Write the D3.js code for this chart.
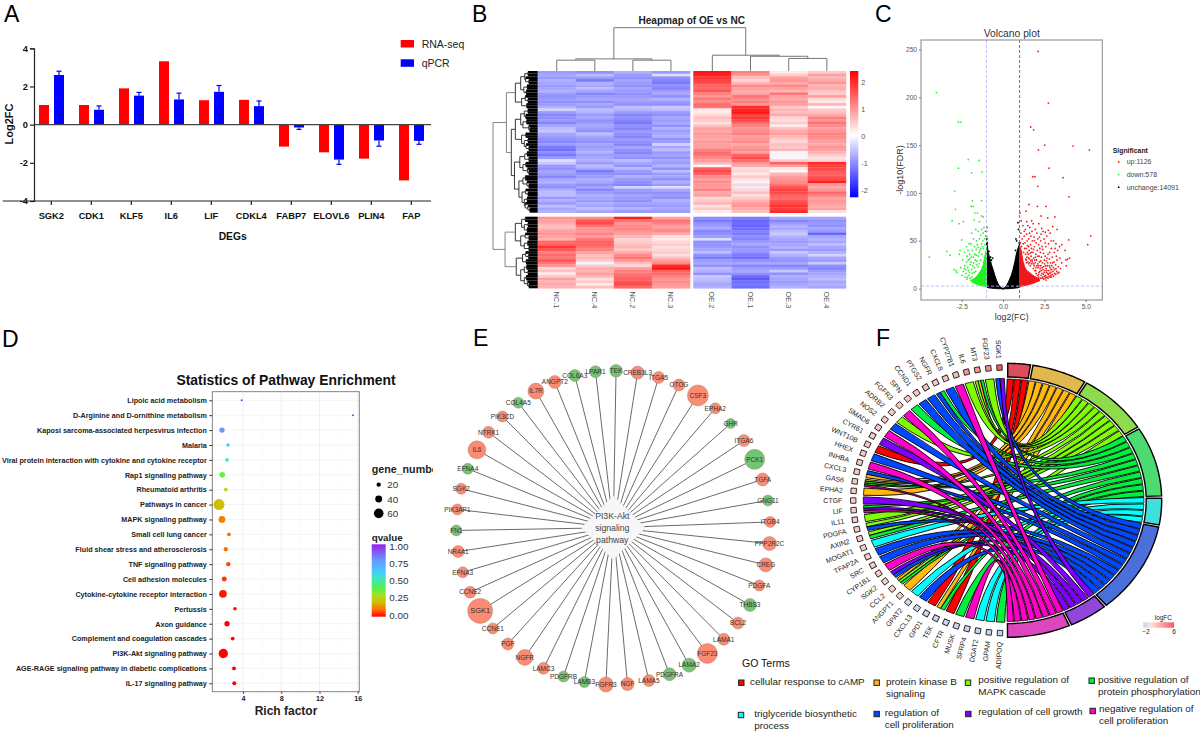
<!DOCTYPE html>
<html>
<head>
<meta charset="utf-8">
<script src="https://d3js.org/d3.v7.min.js"></script>
<style>
body { margin: 0; background: #fff; }
svg { display: block; }
text { font-family: "Liberation Sans", Arial, sans-serif; }
</style>
</head>
<body>
<div id="chart"></div>
<script>
// ---------- panel A data
var degNames = ['SGK2', 'CDK1', 'KLF5', 'IL6', 'LIF', 'CDKL4', 'FABP7', 'ELOVL6', 'PLIN4', 'FAP'];
var rnaSeq = [1.03, 1.03, 1.9, 3.32, 1.28, 1.3, -1.15, -1.45, -1.78, -2.92];
var qPcr = [2.6, 0.78, 1.52, 1.32, 1.72, 0.97, -0.15, -1.83, -0.83, -0.85];
var qPcrErr = [0.2, 0.2, 0.17, 0.33, 0.33, 0.27, 0.1, 0.25, 0.3, 0.18];

// ---------- panel B data, one list per sample, rows top block then bottom block
var colNames = ['NC.1', 'NC.4', 'NC.2', 'NC.3', 'OE.2', 'OE.1', 'OE.3', 'OE.4'];
var heatTop = [
  [-.9,-.8,-.9,-.7,-.8,-.9,-.8,-.7,-.9,-1.0,-.9,-1.0,-.9,-.7,-.4,-.9,-1.1,-1.0,-.9,-1.1,-.8,-.6,-.5,-.8,-.9,-1.0,-1.1,-.9,-1.2,-1.3,-1.0,-1.2,-.9,-.3,-.5,-.9,-1,-.8,-.9,-1.1,-.8,-.7,-.9,-1,-.7,-.6,-.6,-.9,-.7,-.9,-.6,-.8,-.7],
  [-1.0,-.6,-.9,-1.2,-.7,-.8,-.6,-.8,-1.1,-.9,-.8,-1.0,-.8,-.9,-.6,-.7,-.9,-.8,-1,-.9,-.8,-.9,-1.0,-.6,-.8,-.9,-1,-.8,-.9,-.8,-.7,-.9,-.8,-.7,-.9,-.6,-.8,-1.2,-1,-.9,-.7,-.8,-1,-.8,-1.1,-.9,-.7,-.8,-.9,-.7,-.8,-.6,-.8],
  [-.7,-.9,-1,-.8,-.9,-1,-.8,-.9,-1.0,-.9,-.8,-.9,-1,-.6,-.7,-.9,-1.1,-1.0,-1.1,-1.2,-1,-1.1,-.9,-1.0,-1.1,-.9,-1,-1.1,-.8,-1,-1.1,-.9,-1,-.6,-.8,-1,-.6,-.9,-1,-.7,-.9,-1,-1.1,-.4,-.9,-1,-.8,-.9,-1,-.8,-.9,-.7,-.9],
  [-.9,-.3,-1.0,-1.1,-1.2,-1,-1.1,-.9,-.8,-1,-.7,-.9,-1,-.5,-.6,-.9,-1,-.8,-.9,-.8,-1,-.7,-.9,-.8,-.7,-1,-.9,-.4,-.8,-.6,-.9,-.8,-1,-.8,-.9,-.7,-1,-.6,-.9,-.8,-1,-.7,-.9,-.3,-.8,-1,-.9,-1,-.7,-.8,-.9,-.8,-.9],
  [2.2,2.1,1.9,1.8,1.7,1.5,1.4,1.6,1.2,1.0,1.3,1.1,1.4,1.3,.2,.2,.4,.6,.5,.3,.6,.9,.8,1,.9,.8,1,.9,.9,1.2,1.4,1.3,1.1,.9,.7,.1,1.5,1.7,1.5,1.1,.9,1.1,1,.9,1.2,.8,.9,.4,.5,.7,.3,.5,.2],
  [1.2,1.0,.6,.4,.7,1.1,.9,.8,.9,1.3,1.1,1.2,1.0,2.0,2.1,2.2,1.8,1.9,1.7,1.4,1.2,1.0,1.1,1.2,.9,1.0,1.1,.8,1.0,1.1,.9,1.5,1.7,1.4,1.0,.8,.3,.4,.2,.5,.3,.1,.4,-.2,.4,.6,.3,.5,.7,.9,1.0,.8,.6],
  [.2,.5,.9,1.0,.8,1.1,.9,.7,1.3,.9,.8,1.0,.9,.5,.7,.6,.8,.4,.3,.5,.2,.6,.8,.9,.7,.5,.4,.6,.5,.7,.1,-.1,.1,.5,1.5,.9,.2,.1,.7,.9,1.0,1.1,1.3,1.6,1.8,1.7,1.5,1.4,1.6,1.7,1.9,1.8,2.0],
  [.5,.9,.7,.8,1.0,.7,.8,.6,.5,.9,.4,.2,.7,.1,.5,.6,.8,1.2,1.0,1.3,1.1,.9,1.0,1.2,1.1,1.0,.9,.8,1.0,.9,.7,.5,.3,.4,2.0,1.8,1.7,1.6,1.5,1.6,1.7,2.1,1.0,.8,1.0,1.4,1.2,.9,1,.9,.8,.9,.3]
];
var heatBottom = [
  [1.0,.9,.8,.6,.7,.9,1.0,.9,.7,1.4,1.5,1.9,1.6,1.2,1.4,1.3,1.6,1.3,1.0,.4,.6,.2,.5,.9,.7,.8,.7],
  [1.1,1.6,1.7,1.3,1.0,1.0,1.2,.9,1.3,1.5,1.5,1.3,1.2,.9,.6,.7,.5,-.1,.5,.8,.7,.9,.7,.3,.5,.2,.6],
  [2.1,1.3,1.0,1.1,1.2,1.0,.9,.7,.4,.5,.6,.7,.5,.8,1.1,1.3,1.0,.6,.4,.9,1.2,1.3,1.4,1.5,1.6,1.7,1.4],
  [.9,1.3,1.2,.9,1.0,1.1,.8,.3,.2,.4,.5,.3,.4,.5,.3,.6,.9,1.1,2.0,2.2,1.5,1.4,1.2,1.0,1.1,1.0,.9],
  [-1.0,-1.2,-1,-.9,-.8,-1.1,-1.0,-.9,-.3,-1,-1,-.9,-.8,-.6,-1,-1.2,-.9,-.8,-1,-.6,-.7,-1.0,-.5,-.6,-.7,-.8,-.7],
  [-1.2,-1.4,-1.3,-1.4,-1.3,-1.1,-1.2,-1,-1.1,-.9,-.8,-1,-.9,-1.0,-1.2,-1.3,-1,-.8,-1.1,-.9,-.8,-1,-1.3,-1.5,-1.3,-1.2,-1.3],
  [-.8,-1.1,-.9,-.7,-.8,-.6,-.5,-.7,-.8,-.9,-.8,-.7,-.9,-.5,-.7,-.9,-1,-.8,-1.1,-.9,-.5,-1,-.7,-.8,-.9,-.8,-.7],
  [-.8,-1,-.9,-1,-.8,-.9,-1.4,-.8,-.7,-.8,-.6,-.8,-.9,-.7,-.4,-.8,-.9,-.5,-1,-1.1,-.9,-.8,-.7,-.6,-.8,-.7,-.8]
];
// dendrograms as [height, childA, childB], leaves are column / row numbers
var colTree = [1, [.28, [.25, 0, 1], [.25, 2, 3]], [.365, 4, [.34, 5, [.29, 6, 7]]]];
var rowTree = [1,
  [.7,
    [.5, [.38, [.29, [.22, 0, 1], [.27, 2, [.2, 3, 4]]], [.31, [.24, 5, 6], [.26, 7, 8]]], [.36, [.28, 9, [.22, 10, 11]], [.25, 12, 13]]],
    [.59,
      [.5, [.38, [.3, [.22, 14, 15], [.27, 16, 17]], [.33, [.25, 18, 19], [.2, 20, [.18, 21, 22]]]], [.36, [.27, 23, 24], [.3, [.22, 25, 26], [.26, 27, [.2, 28, 29]]]]],
      [.52, [.4, [.29, [.24, 30, 31], [.2, 32, 33]], [.33, [.27, 34, 35], [.23, 36, [.2, 37, 38]]]], [.42, [.33, [.28, 39, 40], [.24, 41, [.2, 42, 43]]], [.35, [.27, 44, [.22, 45, 46]], [.3, [.24, 47, 48], [.28, 49, [.22, 50, [.18, 51, 52]]]]]]]
    ]
  ],
  [.73,
    [.5, [.36, [.28, 53, 54], [.3, [.22, 55, 56], [.24, 57, 58]]], [.38, [.28, 59, [.2, 60, 61]], [.3, [.23, 62, 63], [.2, 64, 65]]]],
    [.48, [.34, [.27, 66, [.21, 67, 68]], [.26, 69, 70]], [.38, [.3, [.25, 71, 72], [.22, 73, 74]], [.3, [.26, 75, 76], [.23, 77, [.2, 78, 79]]]]]
  ]
];

// ---------- panel C data, [log2FC, -log10FDR]
var volUp = [[2.12,248],[2.74,194],[1.67,169],[1.85,166],[2.52,150],[2.14,145],[4.23,149],[5.22,145],[2.78,126],[1.8,117],[1.93,117],[3.63,116],[2.1,107],[3.99,96],[1.57,88],[1.39,81],[2.08,86],[2.6,86],[2.3,76],[3.13,75],[2.7,74],[5.3,55],[5.12,46],[3.97,51],[3.27,62],[3,65],[2.74,61],[2.56,59],[2.34,63],[2.16,68],[1.73,71],[1.43,70],[1.1,71],[1.03,79],
  [1.2,66],[1.35,62],[1.5,66],[1.62,64],[1.82,68],[1.95,62],[2.05,58],[2.2,54],[2.42,60],[2.48,52],[2.65,55],[2.85,58],[3.05,50],[3.2,47],[3.42,44],[3.55,46],[1.08,58],[1.16,52],[1.28,55],[1.42,57],[1.55,52],[1.68,55],[1.77,50],[1.88,54],[2.0,48],[2.15,46],[2.28,50],[2.36,44],[2.58,44],[2.75,47],[2.92,42],[3.1,38],[3.3,40],[3.75,40],[3.9,31],[3.8,30],[4.02,32],[3.82,24],[3.55,27],
  [1.05,48],[1.12,44],[1.22,47],[1.33,48],[1.4,42],[1.48,45],[1.58,40],[1.66,46],[1.72,42],[1.8,38],[1.9,44],[1.98,36],[2.07,40],[2.18,34],[2.25,38],[2.32,33],[2.45,37],[2.55,34],[2.62,29],[2.72,36],[2.8,31],[2.88,27],[2.98,33],[3.08,28],[3.18,25],[3.26,30],[3.35,23],[3.48,21],[3.18,15],[3.3,16],[3.02,18],[2.9,14],[3.12,20],
  [1.36,36],[1.45,33],[1.52,36],[1.6,31],[1.7,34],[1.78,28],[1.85,32],[1.94,27],[2.02,30],[2.1,26],[2.2,28],[2.28,24],[2.38,27],[2.46,23],[2.52,26],[2.6,21],[2.68,24],[2.76,19],[2.84,22],[2.94,20],[2.7,16],[2.58,14],[2.78,13],[2.48,17],[2.4,12],[2.32,19],[2.24,21],[2.3,14],[2.18,17],[2.12,22],[2.05,24],[1.98,22],[1.88,24],[1.74,26],[1.62,27],[1.5,28],[1.42,27],
  [2.52,19],[2.62,17],[2.66,12],[2.88,17],[2.98,15],[2.44,15],[2.36,11],[2.56,11],[2.72,11],
  [1.3,42],[1.24,38],[1.38,31],[1.47,38],[1.55,26],[1.65,24],[1.75,30],[1.83,21],[1.92,19],[2.0,16],[2.08,14],[2.15,12],[2.22,18],[2.35,16],[2.42,20],[2.5,13],[2.6,12],[2.65,19],[2.74,15],[2.82,16],[2.92,12],[3.05,13],[3.12,16],[3.25,18],[3.38,17],[1.55,44],[1.64,37],[1.72,38],[1.84,41],[1.96,33],[2.1,34],[2.22,42],[2.4,41],[2.5,30],[2.66,32],[2.82,38],[2.95,24],[3.0,27],[3.22,34],[3.44,32],[1.28,60],[1.45,50],[1.6,58],[1.75,60],[1.9,50],[2.1,52],[2.3,57],[2.55,48],[2.9,50],[3.15,42],
  [1.4,30],[1.55,32],[1.68,29],[1.92,30],[2.16,24],[2.28,29],[2.36,22],[2.58,24],[2.7,27],[2.8,24],[2.9,20],[3.05,22],[3.2,21],[1.85,26],[1.98,19],[2.15,15],[2.26,11],[2.46,10],[2.6,9],[2.85,12]];
var volDown = [[-4.03,205],[-2.7,174],[-2.56,174],[-2.1,135],[-1.45,134],[-2.7,126],[-1.9,121],[-1.27,122],[-2.92,102],[-1.85,92],[-1.3,92],[-1.93,86],[-1.8,86],[-2.88,83],[-1.7,79],[-1.55,79],[-1.3,76],[-1.2,75],[-3.08,71],[-2.66,68],[-2.4,70],[-1.75,72],[-1.43,70],[-4.46,33],[-3.4,39],[-3.2,35],[-2.5,51],[-2.6,40],[-2.64,36],[-2.96,20],[-2.84,19],[-2.8,17],
  [-1.15,64],[-1.08,60],[-1.2,58],[-1.05,55],[-1.28,62],[-1.12,52],[-1.35,56],[-1.5,60],[-1.65,62],[-1.9,58],[-1.22,50],[-1.42,52],[-1.6,50],[-1.78,52],[-2.05,47],[-1.1,46],[-1.3,47],[-1.55,46],[-1.72,44],[-1.95,47],[-2.2,44],[-1.18,42],[-1.4,40],[-1.62,41],[-1.85,40],[-2.12,40],[-2.32,38],[-2.45,30],[-1.28,36],[-1.5,34],[-1.7,36],[-1.92,33],[-2.02,31],[-2.2,28],[-2.32,24],[-2.4,18],
  [-1.36,30],[-1.58,29],[-1.78,27],[-1.98,25],[-2.14,22],[-2.24,16],[-2.48,14],[-2.3,12],[-2.08,14],[-1.9,20],[-1.72,22],[-1.65,18],[-1.85,16],[-2.0,11],[-2.18,10],[-1.95,9],[-2.55,22],
  [-1.45,26],[-1.52,23],[-1.6,25],[-1.68,30],[-1.75,17],[-1.82,24],[-1.88,12],[-1.95,28],[-2.02,17],[-2.1,19],[-2.15,12],[-2.25,20],[-2.35,21],[-2.1,30],[-1.8,33],[-1.62,35],[-1.46,38],[-1.25,44],[-1.35,42],[-1.5,43],[-2.02,36],[-2.18,34]];
var volFlat = [[-.98,64],[-1,60],[-1,55],[-.98,52],[-.95,48],[-.85,39],[-.75,33],[-.62,32],[-.7,30],[.78,52],[.82,50],[.9,69],[.97,48],[.93,62],[.75,40]];
var volLegend = ['up:1126', 'down:578', 'unchange:14091'];
// outlines of the parts too dense to read point by point: [log2FC, low, high]
var coreFlat = [[-1,1.5,50],[-.95,1.3,45],[-.9,1,38],[-.8,.8,32],[-.7,.6,25],[-.6,.4,20],[-.5,.2,14],[-.4,.1,9],[-.3,0,5],[-.2,0,2.5],[-.1,0,1],[0,-.5,.5],[.1,0,1],[.2,0,3],[.3,0,6],[.4,.1,10],[.5,.2,14],[.6,.4,20],[.7,.6,27],[.8,.8,36],[.9,1,42],[1,1.5,47]];
var coreUp = [[1,2,45],[1.1,2.4,40],[1.2,2.8,29],[1.3,3.2,23],[1.4,3.6,20],[1.5,4,18],[1.6,4.5,17],[1.8,5.5,14],[2,7,12],[2.2,8,10]];
var coreDown = [[-1,2,42],[-1.1,2.4,34],[-1.2,2.8,25],[-1.3,3.2,20],[-1.5,4,15],[-1.7,5.5,11],[-1.9,7,9]];

// ---------- panel D data
var pathways = ['Lipoic acid metabolism', 'D-Arginine and D-ornithine metabolism', 'Kaposi sarcoma-associated herpesvirus infection', 'Malaria', 'Viral protein interaction with cytokine and cytokine receptor', 'Rap1 signaling pathway', 'Rheumatoid arthritis', 'Pathways in cancer', 'MAPK signaling pathway', 'Small cell lung cancer', 'Fluid shear stress and atherosclerosis', 'TNF signaling pathway', 'Cell adhesion molecules', 'Cytokine-cytokine receptor interaction', 'Pertussis', 'Axon guidance', 'Complement and coagulation cascades', 'PI3K-Akt signaling pathway', 'AGE-RAGE signaling pathway in diabetic complications', 'IL-17 signaling pathway'];
var richFactor = [3.86, 15.5, 1.8, 2.43, 2.33, 1.83, 2.2, 1.49, 1.8, 2.53, 2.2, 2.46, 2.04, 1.9, 3.16, 2.33, 2.92, 1.94, 3.06, 3.09];
var geneNumber = [3, 3, 28, 15, 15, 30, 15, 70, 38, 17, 20, 20, 25, 45, 14, 27, 16, 58, 17, 18];
var qValue = [.98, .97, .78, .62, .52, .37, .28, .2, .12, .1, .1, .06, .05, .02, .01, 0, 0, 0, 0, 0];
var geneLegend = [20, 40, 60];
var qTicks = [0, .25, .5, .75, 1];

// ---------- panel E data, clockwise from the top
var netGenes = ['TEK', 'CREB3L3', 'ITGA5', 'OTOG', 'CSF3', 'EPHA2', 'GHR', 'ITGA6', 'PCK1', 'TGFA', 'GNG11', 'ITGB4', 'PPP2R2C', 'CREG', 'PDGFA', 'THBS3', 'BCL2', 'LAMA1', 'FGF23', 'LAMA2', 'PDGFRA', 'LAMA5', 'NGF', 'FGFR3', 'LAMB3', 'PDGFRB', 'LAMC3', 'NGFR', 'PGF', 'CCNE1', 'SGK1', 'CCNE2', 'EFNA3', 'NR4A1', 'FN1', 'PIK3AP1', 'SGK2', 'EFNA4', 'IL6', 'NTRK1', 'PIK3CD', 'COL4A5', 'IL7R', 'ANGPT2', 'COL6A3', 'LPAR1'];
var netWeight = [6.3, 6.5, 6, 6, 10.5, 5.5, 5, 6, 10, 6.5, 5.5, 5.5, 7, 7, 5.5, 6.5, 6, 6, 10, 7, 6.5, 6, 6.5, 7.5, 5.5, 5.5, 6, 8, 6, 5.5, 12.5, 6, 5.5, 6, 5.5, 5.5, 5.5, 5.5, 9, 6, 5.5, 5.5, 8, 6.5, 6, 6];
var netDown = ['TEK', 'GHR', 'PCK1', 'GNG11', 'THBS3', 'LAMA2', 'PDGFRA', 'LAMB3', 'PDGFRB', 'FN1', 'EFNA4', 'COL4A5', 'COL6A3', 'LPAR1'];

// ---------- panel F data, term numbers follow goTerms
var goTerms = ['cellular response to cAMP', 'protein kinase B signaling', 'positive regulation of MAPK cascade', 'positive regulation of protein phosphorylation', 'triglyceride biosynthetic process', 'regulation of cell proliferation', 'regulation of cell growth', 'negative regulation of cell proliferation'];
var chordGenes = ['SGK1', 'FGF23', 'MT3', 'IL6', 'CYP27B1', 'CXCL8', 'NGFR', 'PTGS2', 'CCND1', 'SPN', 'FGFR3', 'ADRB2', 'NOS2', 'SMAD6', 'CYR61', 'WNT10B', 'HHEX', 'INHBA', 'CXCL3', 'GAS6', 'EPHA2', 'CTGF', 'LIF', 'IL11', 'PDGFA', 'AXIN2', 'MOGAT1', 'TFAP2A', 'SRC', 'CYP1B1', 'SGK2', 'CCL2', 'ANGPT1', 'GPAT2', 'CXCL13', 'GPD1', 'TEK', 'CFTR', 'MUSK', 'SFRP4', 'DGAT2', 'GPAM', 'ADIPOQ'];
var chordLinks = [[6,5],[2],[3,1,2],[2],[7],[5],[3,5],[5],[5],[3],[7],[2],[5],[7],[6],[0],[5],[7],[5,1],[1,3,2,7],[1],[6],[3,6,7],[2],[2,5],[2,3],[4],[5],[5],[7],[6,5],[1,2,3],[1],[4],[5],[0],[1,3],[0],[3],[7],[4],[4],[3]];
var chordFC = [6, 3.8, 3.4, 3.4, 1.6, 1.5, 1.3, 1.3, 1.3, 1.3, 1.3, 1.2, 1.2, 1.2, 1.2, 1.1, 1.1, 1.1, 1.1, 1.1, 1.1, 1, 1, 1, 1, 1, 1, 1, 1, 1, 1, 1, 1, -1.4, -1.4, -1.5, -1.5, -1.5, -1.6, -1.6, -1.6, -1.8, -2];

// ---------- setup
var svg = d3.select('#chart').append('svg')
  .attr('width', 1200)
  .attr('height', 731);

var letters = [['A', 4, 22], ['B', 472, 22], ['C', 875, 22], ['D', 2, 347], ['E', 473, 346], ['F', 876, 346]];
svg.selectAll('.letter').data(letters).enter().append('text')
  .attr('x', d => d[1])
  .attr('y', d => d[2])
  .attr('font-size', 23)
  .text(d => d[0]);

drawBars();
drawHeatmap();
drawVolcano();
drawPathways();
drawNetwork();
drawChord();

// ---------- A
function drawBars() {
  var g = svg.append('g');
  var x = d3.scaleBand().domain(degNames).range([31.3, 431.3]);
  var y = d3.scaleLinear().domain([-4, 4]).range([201, 48.3]);
  var inner = d3.scaleOrdinal().domain(['rna', 'q']).range([-12.3, 2.7]);

  g.selectAll('.rna').data(degNames).enter().append('rect')
    .attr('x', d => x(d) + x.bandwidth() / 2 + inner('rna'))
    .attr('width', 10)
    .attr('y', (d, i) => Math.min(y(0), y(rnaSeq[i])))
    .attr('height', (d, i) => Math.abs(y(rnaSeq[i]) - y(0)))
    .attr('fill', '#ff0000');

  g.selectAll('.q').data(degNames).enter().append('rect')
    .attr('x', d => x(d) + x.bandwidth() / 2 + inner('q'))
    .attr('width', 10)
    .attr('y', (d, i) => Math.min(y(0), y(qPcr[i])))
    .attr('height', (d, i) => Math.abs(y(qPcr[i]) - y(0)))
    .attr('fill', '#0000ff');

  // error bars go away from zero
  degNames.forEach(function(d, i) {
    var cx = x(d) + x.bandwidth() / 2 + inner('q') + 5;
    var tip = qPcr[i] + (qPcr[i] > 0 ? qPcrErr[i] : -qPcrErr[i]);
    g.append('line').attr('x1', cx).attr('x2', cx).attr('y1', y(qPcr[i])).attr('y2', y(tip))
      .attr('stroke', '#0000ff').attr('stroke-width', 1.2);
    g.append('line').attr('x1', cx - 2.5).attr('x2', cx + 2.5).attr('y1', y(tip)).attr('y2', y(tip))
      .attr('stroke', '#0000ff').attr('stroke-width', 1.2);
  });

  g.append('line').attr('x1', 34).attr('x2', 431).attr('y1', y(0)).attr('y2', y(0))
    .attr('stroke', '#444').attr('stroke-width', 1.2);

  var xAxis = g.append('g').attr('transform', 'translate(0,201)')
    .call(d3.axisBottom(x).tickSize(4).tickPadding(7));
  var yAxis = g.append('g').attr('transform', 'translate(34,0)')
    .call(d3.axisLeft(y).tickValues([-4, -2, 0, 2, 4]).tickFormat(d => String(d)).tickSize(4).tickPadding(2));
  xAxis.select('.domain').attr('d', 'M2.7,0H431');
  [xAxis, yAxis].forEach(function(a) {
    a.selectAll('path,line').attr('stroke', '#222').attr('stroke-width', 1.2);
    a.selectAll('text').attr('fill', '#111').attr('font-weight', 'bold').attr('font-size', 9.3).attr('font-family', '"Liberation Sans"');
  });

  g.append('text').attr('x', 232.7).attr('y', 240).attr('text-anchor', 'middle')
    .attr('font-weight', 'bold').attr('font-size', 10.3).attr('fill', '#111').text('DEGs');
  g.append('text').attr('transform', 'translate(13,124) rotate(-90)').attr('text-anchor', 'middle')
    .attr('font-weight', 'bold').attr('font-size', 11).attr('fill', '#111').text('Log2FC');

  var legend = [['RNA-seq', '#ff0000', 40], ['qPCR', '#0000ff', 59.3]];
  legend.forEach(function(l) {
    g.append('rect').attr('x', 400.7).attr('y', l[2]).attr('width', 13.3).attr('height', 7.5).attr('fill', l[1]);
    g.append('text').attr('x', 421.7).attr('y', l[2] + 8).attr('font-size', 10.5).attr('fill', '#222').text(l[0]);
  });
}

// ---------- B
function drawHeatmap() {
  var g = svg.append('g');
  var color = d3.scaleLinear().domain([-2.3, 0, 2.4]).range(['#0000ff', '#ffffff', '#ff0000']);
  var colLeft = d3.scaleBand().domain(d3.range(4)).range([537.7, 690]);
  var colRight = d3.scaleBand().domain(d3.range(4, 8)).range([693.3, 846]);
  var rowsTop = d3.scaleBand().domain(d3.range(heatTop[0].length)).range([71, 212.7]);
  var rowsBottom = d3.scaleBand().domain(d3.range(heatBottom[0].length)).range([216.7, 288.3]);
  var colX = i => i < 4 ? colLeft(i) : colRight(i);

  function cells(values, rows) {
    values.forEach(function(col, c) {
      g.selectAll(null).data(col).enter().append('rect')
        .attr('x', colX(c))
        .attr('width', colLeft.bandwidth() + 0.3)
        .attr('y', (d, i) => rows(i))
        .attr('height', rows.bandwidth() + 0.3)
        .attr('fill', d => color(d));
    });
  }
  cells(heatTop, rowsTop);
  cells(heatBottom, rowsBottom);

  // column dendrogram
  var h = d3.scaleLinear().domain([0, 1]).range([71, 27.7]);
  function colNode(n) {
    if (typeof n === 'number') return colX(n) + colLeft.bandwidth() / 2;
    var a = colNode(n[1]), b = colNode(n[2]);
    [[a, n[1]], [b, n[2]]].forEach(function(k) {
      g.append('line').attr('x1', k[0]).attr('x2', k[0]).attr('y1', h(n[0]))
        .attr('y2', typeof k[1] === 'number' ? 71 : h(k[1][0]))
        .attr('stroke', '#666').attr('stroke-width', 0.9);
    });
    g.append('line').attr('x1', a).attr('x2', b).attr('y1', h(n[0])).attr('y2', h(n[0]))
      .attr('stroke', '#666').attr('stroke-width', 0.9);
    return (a + b) / 2;
  }
  colNode(colTree);

  // row dendrogram, leaves are thick so that they close up into the black band
  var w = d3.scaleLinear().domain([0, 1]).range([537.7, 493]);
  var nTop = heatTop[0].length;
  var rowY = i => i < nTop ? rowsTop(i) + rowsTop.bandwidth() / 2 : rowsBottom(i - nTop) + rowsBottom.bandwidth() / 2;
  function rowNode(n) {
    if (typeof n === 'number') return rowY(n);
    var a = rowNode(n[1]), b = rowNode(n[2]);
    var col = n[0] > .6 ? '#777' : '#222';
    [[a, n[1]], [b, n[2]]].forEach(function(k) {
      var leaf = typeof k[1] === 'number';
      g.append('line').attr('x1', w(n[0])).attr('y1', k[0]).attr('y2', k[0])
        .attr('x2', leaf ? w(0) : w(k[1][0]))
        .attr('stroke', leaf ? '#000' : col)
        .attr('stroke-width', leaf ? rowsTop.bandwidth() : 0.9);
    });
    g.append('line').attr('x1', w(n[0])).attr('x2', w(n[0])).attr('y1', a).attr('y2', b)
      .attr('stroke', col).attr('stroke-width', 0.9);
    return (a + b) / 2;
  }
  rowNode(rowTree);

  g.append('text').attr('x', 691.7).attr('y', 24).attr('text-anchor', 'middle')
    .attr('font-weight', 'bold').attr('font-size', 10.1).attr('fill', '#222').text('Heapmap of OE vs NC');

  colNames.forEach(function(name, i) {
    g.append('text')
      .attr('transform', 'translate(' + (colX(i) + colLeft.bandwidth() / 2 - 3) + ',291.5) rotate(90)')
      .attr('font-size', 7.4).attr('fill', '#555').text(name);
  });

  // colour bar
  var barY = d3.scaleLinear().domain([-2.28, 2.4]).range([197.3, 71]);
  var defs = svg.append('defs');
  var grad = defs.append('linearGradient').attr('id', 'heatGrad').attr('x1', 0).attr('x2', 0).attr('y1', 1).attr('y2', 0);
  [-2.3, 0, 2.4].forEach(function(v, i) {
    grad.append('stop').attr('offset', [0, .49, 1][i]).attr('stop-color', color(v));
  });
  g.append('rect').attr('x', 850).attr('y', 71).attr('width', 8.3).attr('height', 126.3).attr('fill', 'url(#heatGrad)');
  var barAxis = g.append('g').attr('transform', 'translate(858.3,0)')
    .call(d3.axisRight(barY).tickValues([-2, -1, 0, 1, 2]).tickFormat(d => String(d)).tickSize(0).tickPadding(3));
  barAxis.select('.domain').remove();
  barAxis.selectAll('text').attr('font-size', 7.2).attr('fill', '#555').attr('font-family', '"Liberation Sans"');
}

// ---------- C
function drawVolcano() {
  var g = svg.append('g');
  var x = d3.scaleLinear().domain([-4.96, 6.0]).range([921, 1102.3]);
  var y = d3.scaleLinear().domain([-11.8, 259.9]).range([300, 40]);

  var core = d3.area().x(d => x(d[0])).y0(d => y(d[1])).y1(d => y(d[2]));
  [[coreFlat, '#000'], [coreUp, '#f01818'], [coreDown, '#22f022']].forEach(function(c) {
    g.append('path').attr('d', core(c[0])).attr('fill', c[1]).attr('stroke', c[1]).attr('stroke-width', 1);
  });

  [[volUp, '#f02020'], [volDown, '#30f030'], [volFlat, '#000']].forEach(function(s) {
    g.selectAll(null).data(s[0]).enter().append('circle')
      .attr('cx', d => x(d[0]))
      .attr('cy', d => y(d[1]))
      .attr('r', 0.9)
      .attr('fill', s[1]);
  });

  // cut-off lines
  [[-1, '#b9b9f0'], [1, '#5555bb']].forEach(function(c) {
    g.append('line').attr('x1', x(c[0])).attr('x2', x(c[0])).attr('y1', 40).attr('y2', 300)
      .attr('stroke', c[1]).attr('stroke-width', 0.9).attr('stroke-dasharray', '3,2');
  });
  g.append('line').attr('x1', 921).attr('x2', 1102.3).attr('y1', y(2.7)).attr('y2', y(2.7))
    .attr('stroke', '#b9b9f0').attr('stroke-width', 0.9).attr('stroke-dasharray', '3,2');

  g.append('rect').attr('x', 921).attr('y', 40).attr('width', 181.3).attr('height', 260)
    .attr('fill', 'none').attr('stroke', '#999').attr('stroke-width', 1.2);

  var xAxis = g.append('g').attr('transform', 'translate(0,300)')
    .call(d3.axisBottom(x).tickValues([-2.5, 0, 2.5, 5]).tickFormat(d => d3.format('.1f')(d).replace('−', '-')).tickSize(2).tickPadding(2));
  var yAxis = g.append('g').attr('transform', 'translate(921,0)')
    .call(d3.axisLeft(y).tickValues([0, 50, 100, 150, 200, 250]).tickSize(2).tickPadding(2));
  [xAxis, yAxis].forEach(function(a) {
    a.select('.domain').remove();
    a.selectAll('line').attr('stroke', '#777');
    a.selectAll('text').attr('font-size', 6.6).attr('fill', '#555').attr('font-family', '"Liberation Sans"');
  });

  g.append('text').attr('x', 1011.7).attr('y', 37).attr('text-anchor', 'middle').attr('font-size', 10.3).attr('fill', '#333').text('Volcano plot');
  g.append('text').attr('x', 1011.7).attr('y', 320).attr('text-anchor', 'middle').attr('font-size', 8.7).attr('fill', '#333').text('log2(FC)');
  g.append('text').attr('transform', 'translate(902.5,170) rotate(-90)').attr('text-anchor', 'middle').attr('font-size', 9).attr('fill', '#333').text('-log10(FDR)');

  g.append('text').attr('x', 1112.7).attr('y', 152.5).attr('font-weight', 'bold').attr('font-size', 6.9).attr('fill', '#222').text('Significant');
  var legendCol = ['#f02020', '#30f030', '#000'];
  volLegend.forEach(function(t, i) {
    var ly = 162 + i * 12.6;
    g.append('circle').attr('cx', 1118.7).attr('cy', ly).attr('r', 0.9).attr('fill', legendCol[i]);
    g.append('text').attr('x', 1126.7).attr('y', ly + 2.3).attr('font-size', 7).attr('fill', '#444').text(t);
  });
}

// ---------- D
function drawPathways() {
  var g = svg.append('g');
  var x = d3.scaleLinear().domain([4, 16]).range([243, 357.7]);
  var y = d3.scalePoint().domain(pathways).range([400.3, 683.3]);
  var r = d3.scaleLinear().domain([3, 70]).range([1, 5.5]);
  var qStops = [0, .1, .2, .3, .4, .52, .62, .78, 1];
  var qCols = ['#ff0000', '#ff7000', '#ccc000', '#a5e020', '#55f055', '#3fe8b0', '#44ccff', '#6699ff', '#9920ee'];
  var q = d3.scaleLinear().domain(qStops).range(qCols);

  // grid
  [6, 10, 14].forEach(function(v) {
    g.append('line').attr('x1', x(v)).attr('x2', x(v)).attr('y1', 391.7).attr('y2', 691.7).attr('stroke', '#f6f6f6').attr('stroke-width', 0.6);
  });
  [4, 8, 12, 16].forEach(function(v) {
    g.append('line').attr('x1', x(v)).attr('x2', x(v)).attr('y1', 391.7).attr('y2', 691.7).attr('stroke', '#ececec').attr('stroke-width', 0.8);
  });
  g.selectAll(null).data(pathways).enter().append('line')
    .attr('x1', 212.3).attr('x2', 359.3).attr('y1', d => y(d)).attr('y2', d => y(d))
    .attr('stroke', '#efefef').attr('stroke-width', 0.7);

  g.selectAll(null).data(pathways).enter().append('circle')
    .attr('cx', (d, i) => x(richFactor[i]))
    .attr('cy', d => y(d))
    .attr('r', (d, i) => r(geneNumber[i]))
    .attr('fill', (d, i) => q(qValue[i]));

  g.append('rect').attr('x', 212.3).attr('y', 391.7).attr('width', 147).attr('height', 300)
    .attr('fill', 'none').attr('stroke', '#777').attr('stroke-width', 0.9);

  var yAxis = g.append('g').attr('transform', 'translate(212.3,0)')
    .call(d3.axisLeft(y).tickSize(3).tickPadding(2.5));
  var xAxis = g.append('g').attr('transform', 'translate(0,691.7)')
    .call(d3.axisBottom(x).tickValues([4, 8, 12, 16]).tickSize(2).tickPadding(2));
  [xAxis, yAxis].forEach(function(a) {
    a.select('.domain').remove();
    a.selectAll('line').attr('stroke', '#333');
    a.selectAll('text').attr('font-weight', 'bold').attr('font-size', 7.2).attr('fill', '#222').attr('font-family', '"Liberation Sans"');
  });

  g.append('text').attr('x', 286).attr('y', 385).attr('text-anchor', 'middle').attr('font-weight', 'bold').attr('font-size', 13.9).attr('fill', '#111')
    .text('Statistics of Pathway Enrichment');
  g.append('text').attr('x', 286).attr('y', 715).attr('text-anchor', 'middle').attr('font-weight', 'bold').attr('font-size', 12).attr('fill', '#222')
    .text('Rich factor');

  // legends
  var clip = svg.append('defs').append('clipPath').attr('id', 'geneClip');
  clip.append('rect').attr('x', 365).attr('y', 455).attr('width', 68).attr('height', 25);
  g.append('text').attr('x', 371.7).attr('y', 473).attr('clip-path', 'url(#geneClip)').attr('font-weight', 'bold').attr('font-size', 10.7).attr('fill', '#222').text('gene_number');
  var ly = d3.scalePoint().domain(geneLegend).range([484.7, 513.3]);
  geneLegend.forEach(function(v) {
    g.append('circle').attr('cx', 378.7).attr('cy', ly(v)).attr('r', r(v)).attr('fill', '#000');
    g.append('text').attr('x', 387.3).attr('y', ly(v) + 3.5).attr('font-size', 9.9).attr('fill', '#333').text(v);
  });

  g.append('text').attr('x', 371.7).attr('y', 541).attr('font-weight', 'bold').attr('font-size', 9.8).attr('fill', '#222').text('qvalue');
  var grad = svg.append('defs').append('linearGradient').attr('id', 'qGrad').attr('x1', 0).attr('x2', 0).attr('y1', 1).attr('y2', 0);
  qStops.forEach(function(v, i) {
    grad.append('stop').attr('offset', v).attr('stop-color', qCols[i]);
  });
  g.append('rect').attr('x', 371.7).attr('y', 544.3).attr('width', 14).attr('height', 72.4).attr('fill', 'url(#qGrad)');
  var qy = d3.scaleLinear().domain([0, 1]).range([615, 546.7]);
  qTicks.forEach(function(v) {
    g.append('text').attr('x', 389.3).attr('y', qy(v) + 3.5).attr('font-size', 9.9).attr('fill', '#333').text(d3.format('.2f')(v));
  });
}

// ---------- E
function drawNetwork() {
  var g = svg.append('g');
  var cx = 613.3, cy = 527.7, R = 157;
  // the nodes are not spaced quite evenly in the picture
  var angle = d3.scaleLinear().domain([0, 30, 34, 45]).range([1, 238, 269, 353.5]);
  var nx = i => cx + R * Math.sin(angle(i) * Math.PI / 180);
  var ny = i => cy - R * Math.cos(angle(i) * Math.PI / 180);

  g.selectAll(null).data(netGenes).enter().append('line')
    .attr('x1', cx).attr('y1', cy)
    .attr('x2', (d, i) => nx(i)).attr('y2', (d, i) => ny(i))
    .attr('stroke', '#444').attr('stroke-width', 0.8);

  g.selectAll(null).data(netGenes).enter().append('circle')
    .attr('cx', (d, i) => nx(i))
    .attr('cy', (d, i) => ny(i))
    .attr('r', (d, i) => netWeight[i])
    .attr('fill', d => netDown.includes(d) ? '#74c476' : '#fb8b73')
    .attr('stroke', '#9a7a70').attr('stroke-width', 0.4);

  g.selectAll(null).data(netGenes).enter().append('text')
    .attr('x', (d, i) => nx(i))
    .attr('y', (d, i) => ny(i) + 2.3)
    .attr('text-anchor', 'middle')
    .attr('font-size', d => d === 'SGK1' ? 7.4 : 6.5)
    .attr('fill', '#333')
    .text(d => d);

  var dia = 32;
  g.append('path')
    .attr('d', d3.line()([[cx, cy - dia], [cx + dia, cy], [cx, cy + dia], [cx - dia, cy]]) + 'Z')
    .attr('fill', '#f7f7f7').attr('stroke', '#e4e4e4').attr('stroke-width', 0.6);
  ['PI3K-Akt', 'signaling', 'pathway'].forEach(function(t, i) {
    g.append('text').attr('x', cx - 1).attr('y', cy - 8.5 + i * 11.7).attr('text-anchor', 'middle')
      .attr('font-size', 8.7).attr('fill', '#444').text(t);
  });
}

// ---------- F
function drawChord() {
  var g = svg.append('g');
  var fx = d3.scaleLinear().domain([-1, 1]).range([1006.7 - 155, 1006.7 + 155]);
  var fy = d3.scaleLinear().domain([-1, 1]).range([500.3 - 137, 500.3 + 137]);
  var rad = d => d * Math.PI / 180;
  var pt = (t, rx, ry) => [fx(rx * Math.sin(rad(t))), fy(-(ry === undefined ? rx : ry) * Math.cos(rad(t)))];
  var ringCol = ['#de4d5b', '#e0b84e', '#8fdb4e', '#4cdb71', '#40dfdb', '#4b6fdb', '#9247db', '#dd47be'];
  var ribbonCol = ['#ff0000', '#ffb90f', '#7fff00', '#00f040', '#00ffff', '#0048ff', '#7f00ff', '#ff00c8'];
  var fcCol = d3.scaleLinear().domain([-2, 0, 6]).range(['#bcd4f6', '#fde2dc', '#f25a5e']);

  // term widths come from how many genes each term holds
  var counts = goTerms.map((t, i) => d3.sum(chordLinks, l => l.filter(v => v === i).length));
  var total = d3.sum(counts);
  var tAngle = d3.scaleLinear().domain([0, total]).range([0, 180]);
  var starts = [];
  counts.reduce(function(acc, c, i) { starts[i] = acc; return acc + c; }, 0);

  var gene = d3.scalePoint().domain(chordGenes).range([-2.7, -177.5]);
  var step = Math.abs(gene.step());

  var arcPts = (a, b, rx, ry) => d3.range(0, 13).map(i => pt(a + (b - a) * i / 12, rx, ry));
  function pathFrom(pts) { return d3.line()(pts); }

  // ribbons
  var used = goTerms.map(() => 0);
  var ribbons = [];
  chordGenes.forEach(function(name, gi) {
    var top = gene(name) + step * 0.41;
    var width = step * 0.82 / chordLinks[gi].length;
    chordLinks[gi].forEach(function(term, k) {
      ribbons.push({ term: term, a0: top - k * width, a1: top - (k + 1) * width, n: used[term]++ });
    });
  });
  ribbons.sort((a, b) => a.term - b.term);
  ribbons.forEach(function(r) {
    var b0 = tAngle(starts[r.term] + r.n) + 0.2;
    var b1 = tAngle(starts[r.term] + r.n + 1) - 0.2;
    var p = d3.path();
    var left = arcPts(r.a0, r.a1, .925, .89);
    var right = arcPts(b1, b0, .885, .885);
    p.moveTo(left[0][0], left[0][1]);
    left.forEach(q => p.lineTo(q[0], q[1]));
    p.quadraticCurveTo(fx(0), fy(0), right[0][0], right[0][1]);
    right.forEach(q => p.lineTo(q[0], q[1]));
    p.quadraticCurveTo(fx(0), fy(0), left[0][0], left[0][1]);
    p.closePath();
    g.append('path').attr('d', p.toString()).attr('fill', ribbonCol[r.term]).attr('stroke', '#000').attr('stroke-width', 0.9);
  });

  // outer ring
  goTerms.forEach(function(t, i) {
    var a = tAngle(starts[i]) + (i ? 0.6 : 0.4), b = tAngle(starts[i] + counts[i]) - 0.3;
    var pts = arcPts(a, b, 1, 1).concat(arcPts(b, a, .9, .9));
    g.append('path').attr('d', pathFrom(pts) + 'Z').attr('fill', ringCol[i]).attr('stroke', '#000').attr('stroke-width', 1.4);
  });

  // gene squares and labels
  chordGenes.forEach(function(name, i) {
    var t = gene(name);
    var s = pt(t, .99, .97);
    g.append('rect')
      .attr('transform', 'translate(' + s[0] + ',' + s[1] + ') rotate(' + t + ')')
      .attr('x', -2.7).attr('y', -2.7).attr('width', 5.4).attr('height', 5.4)
      .attr('fill', fcCol(chordFC[i])).attr('stroke', '#222').attr('stroke-width', 0.9);
    var l = pt(t, 1.06, 1.035);
    g.append('text')
      .attr('transform', 'translate(' + l[0] + ',' + l[1] + ') rotate(' + (t + 90) + ')')
      .attr('text-anchor', 'end').attr('dy', '0.35em')
      .attr('font-size', 7).attr('fill', '#222')
      .text(name);
  });

  // logFC key
  var grad = svg.append('defs').append('linearGradient').attr('id', 'fcGrad');
  [-2, 0, 6].forEach(function(v, i) {
    grad.append('stop').attr('offset', [0, .25, 1][i]).attr('stop-color', fcCol(v));
  });
  g.append('rect').attr('x', 1143.3).attr('y', 622.3).attr('width', 30.7).attr('height', 5.4).attr('fill', 'url(#fcGrad)');
  g.append('text').attr('x', 1163.3).attr('y', 619.5).attr('text-anchor', 'middle').attr('font-size', 6.4).attr('fill', '#222').text('logFC');
  g.append('text').attr('x', 1146).attr('y', 634).attr('text-anchor', 'middle').attr('font-size', 6.6).attr('fill', '#222').text('−2');
  g.append('text').attr('x', 1174).attr('y', 634).attr('text-anchor', 'middle').attr('font-size', 6.6).attr('fill', '#222').text('6');

  // GO legend
  g.append('text').attr('x', 742).attr('y', 667).attr('font-size', 10.5).attr('fill', '#111').text('GO Terms');
  var legendLines = [
    ['cellular response to cAMP'], ['protein kinase B', 'signaling'], ['positive regulation of', 'MAPK cascade'], ['positive regulation of', 'protein phosphorylation'],
    ['triglyceride biosynthetic', 'process'], ['regulation of', 'cell proliferation'], ['regulation of cell growth'], ['negative regulation of', 'cell proliferation']
  ];
  var swatchX = [741.3, 876.7, 968, 1091.7, 741, 876.7, 968.3, 1092.7];
  var swatchY = [682.7, 682.7, 682.7, 680.7, 715, 714, 714, 711];
  var textX = [750, 886, 978.3, 1098, 754.3, 884.7, 978.3, 1099];
  var textY = [685, 685, 682.7, 682.7, 716.7, 715.7, 714.7, 712.3];
  legendLines.forEach(function(lines, i) {
    g.append('rect').attr('x', swatchX[i] - 2.7).attr('y', swatchY[i] - 2.7).attr('width', 5.4).attr('height', 5.4)
      .attr('fill', ribbonCol[i]).attr('stroke', '#222').attr('stroke-width', 1);
    lines.forEach(function(s, j) {
      g.append('text').attr('x', textX[i]).attr('y', textY[i] + j * 12).attr('font-size', 9.9).attr('fill', '#222').text(s);
    });
  });
}
</script>
</body>
</html>
